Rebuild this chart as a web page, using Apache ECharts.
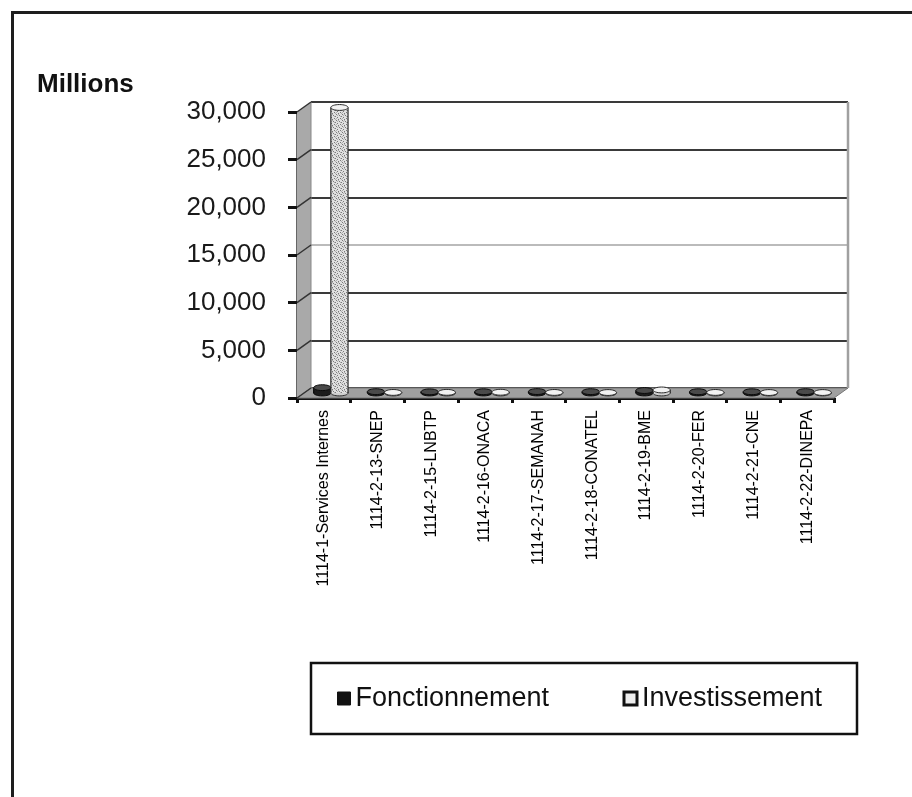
<!DOCTYPE html>
<html>
<head>
<meta charset="utf-8">
<title>Millions</title>
<script src="https://cdn.jsdelivr.net/npm/echarts@6/dist/echarts.min.js"></script>
<style>
  html, body { margin: 0; padding: 0; background: #fff; }
  #chart { width: 912px; height: 797px; }
</style>
</head>
<body>
<div id="chart"></div>
<script>
// Budget by unit, in millions
const categories = [
  '1114-1-Services Internes',
  '1114-2-13-SNEP',
  '1114-2-15-LNBTP',
  '1114-2-16-ONACA',
  '1114-2-17-SEMANAH',
  '1114-2-18-CONATEL',
  '1114-2-19-BME',
  '1114-2-20-FER',
  '1114-2-21-CNE',
  '1114-2-22-DINEPA'
];
const fonctionnement = [560, 140, 120, 130, 150, 140, 260, 130, 130, 140];
const investissement = [29950, 60, 70, 80, 60, 50, 320, 60, 50, 50];
const yTicks = [0, 5000, 10000, 15000, 20000, 25000, 30000];
const seriesNames = ['Fonctionnement', 'Investissement'];

// Oblique depth of the pseudo-3D box (pixels)
const DEPTH_X = 14;
const DEPTH_Y = -10;
const FONT = '"Liberation Sans", Arial, sans-serif';

// Speckled fill for the light cylinders
function speckle() {
  const c = document.createElement('canvas');
  c.width = 6; c.height = 6;
  const g = c.getContext('2d');
  g.fillStyle = '#e0e0e0';
  g.fillRect(0, 0, 6, 6);
  g.fillStyle = '#7a7a7a';
  [[0,0],[3,1],[1,3],[4,4],[5,2],[2,5]].forEach(p => g.fillRect(p[0], p[1], 1, 1));
  g.fillStyle = '#b0b0b0';
  [[2,0],[5,5],[0,4],[4,2],[1,1]].forEach(p => g.fillRect(p[0], p[1], 1, 1));
  return c;
}
const speckleImg = speckle();

const styles = [
  { body: '#1c1c1c', top: '#4a4a4a', stroke: '#0a0a0a' },
  { body: { image: speckleImg, repeat: 'repeat' }, top: '#f2f2f2', stroke: '#2a2a2a' }
];

function cylinder(si) {
  return function (params, api) {
    const cat = api.value(0);
    const v = api.value(1);
    const top = api.coord([cat, v]);
    const base = api.coord([cat, 0]);
    const band = api.size([1, 0])[0];
    const w = band * 0.32;
    const cx = top[0] + DEPTH_X / 2 + (si === 0 ? -0.5 : 0.5) * w;
    const ty = top[1] + DEPTH_Y / 2;
    const by = base[1] + DEPTH_Y / 2;
    const rx = w / 2, ry = w * 0.17;
    const st = styles[si];
    return {
      type: 'group',
      children: [
        { type: 'ellipse', shape: { cx: cx, cy: by, rx: rx, ry: ry },
          style: { fill: si === 0 ? st.body : '#d0d0d0', stroke: st.stroke, lineWidth: 1 } },
        { type: 'rect', shape: { x: cx - rx, y: ty, width: w, height: Math.max(0, by - ty) },
          style: { fill: st.body } },
        { type: 'line', shape: { x1: cx - rx, y1: ty, x2: cx - rx, y2: by },
          style: { stroke: st.stroke, lineWidth: 1.2 } },
        { type: 'line', shape: { x1: cx + rx, y1: ty, x2: cx + rx, y2: by },
          style: { stroke: st.stroke, lineWidth: 1.2 } },
        { type: 'ellipse', shape: { cx: cx, cy: ty, rx: rx, ry: ry },
          style: { fill: st.top, stroke: st.stroke, lineWidth: 1 } }
      ]
    };
  };
}

// Side wall, floor and oblique tick connectors of the box
function boxWalls(params, api) {
  const n = categories.length;
  const band = api.size([1, 0])[0];
  const x0 = api.coord([0, 0])[0] - band / 2;
  const x1 = api.coord([n - 1, 0])[0] + band / 2;
  const yb = api.coord([0, 0])[1];
  const yt = api.coord([0, yTicks[yTicks.length - 1]])[1];
  const children = [
    { type: 'polygon', shape: { points: [[x0, yt], [x0 + DEPTH_X, yt + DEPTH_Y], [x0 + DEPTH_X, yb + DEPTH_Y], [x0, yb]] },
      style: { fill: '#a9a9a9' } },
    { type: 'polygon', shape: { points: [[x0, yb], [x0 + DEPTH_X, yb + DEPTH_Y], [x1 + DEPTH_X, yb + DEPTH_Y], [x1, yb]] },
      style: { fill: '#a0a0a0', stroke: '#777', lineWidth: 1 } },
    { type: 'line', shape: { x1: x1 + DEPTH_X, y1: yt + DEPTH_Y, x2: x1 + DEPTH_X, y2: yb + DEPTH_Y },
      style: { stroke: '#a0a0a0', lineWidth: 2.5 } },
    { type: 'line', shape: { x1: x0 + DEPTH_X, y1: yt + DEPTH_Y, x2: x0 + DEPTH_X, y2: yb + DEPTH_Y },
      style: { stroke: '#888', lineWidth: 1 } }
  ];
  yTicks.forEach(function (t) {
    const y = api.coord([0, t])[1];
    children.push({ type: 'line', shape: { x1: x0, y1: y, x2: x0 + DEPTH_X, y2: y + DEPTH_Y },
      style: { stroke: '#333', lineWidth: 1.5 } });
  });
  return { type: 'group', children: children };
}

const chart = echarts.init(document.getElementById('chart'), null, { renderer: 'canvas' });

const option = {
  backgroundColor: '#fff',
  animation: false,
  textStyle: { fontFamily: FONT },
  title: {
    text: 'Millions',
    left: 32, top: 67,
    textStyle: { fontFamily: FONT, fontSize: 26, fontWeight: 'bold', color: '#111' }
  },
  graphic: [
    { type: 'rect', left: 10, top: 10, shape: { width: 1000, height: 1000 },
      style: { fill: 'none', stroke: '#1e1e1e', lineWidth: 3 }, silent: true }
  ],
  legend: {
    left: 311, top: 663,
    orient: 'horizontal',
    padding: [20, 15, 20, 26],
    itemGap: 15,
    itemWidth: 13, itemHeight: 13,
    icon: 'rect',
    borderColor: '#111', borderWidth: 2.5,
    textStyle: { fontFamily: FONT, fontSize: 27, color: '#111', lineHeight: 31 },
    data: [
      { name: seriesNames[0], itemStyle: { color: '#111', borderColor: '#111', borderWidth: 1 },
        textStyle: { width: 252 } },
      { name: seriesNames[1], itemStyle: { color: '#eee', borderColor: '#111', borderWidth: 3 },
        textStyle: { width: 200 } }
    ]
  },
  grid: [
    { left: 297, right: 78, top: 112, bottom: 399 },
    { left: 297 + DEPTH_X, right: 78 - DEPTH_X, top: 112 + DEPTH_Y, bottom: 399 - DEPTH_Y }
  ],
  xAxis: [
    {
      type: 'category', gridIndex: 0, data: categories,
      axisLine: { show: true, lineStyle: { color: '#111', width: 3 } },
      axisTick: { show: true, length: 5, lineStyle: { color: '#111', width: 3 } },
      axisLabel: { rotate: 90, margin: 12, fontSize: 16, color: '#000', fontFamily: FONT, interval: 0 },
      splitLine: { show: false }
    },
    {
      type: 'category', gridIndex: 1, data: categories,
      axisLine: { show: false }, axisTick: { show: false }, axisLabel: { show: false }
    }
  ],
  yAxis: [
    {
      type: 'value', gridIndex: 0, min: 0, max: 30000, interval: 5000,
      axisLine: { show: true, lineStyle: { color: '#333', width: 1.5 } },
      axisTick: { show: true, length: 9, lineStyle: { color: '#111', width: 3 } },
      axisLabel: {
        margin: 31, fontSize: 26, color: '#1a1a1a', fontFamily: FONT,
        formatter: function (v) { return v.toLocaleString('en-US'); }
      },
      splitLine: { show: false }
    },
    {
      type: 'value', gridIndex: 1, min: 0, max: 30000, interval: 5000,
      axisLine: { show: false }, axisTick: { show: false }, axisLabel: { show: false },
      splitLine: { show: true, lineStyle: { color: ['#3a3a3a', '#3a3a3a', '#3a3a3a', '#bbbbbb', '#3a3a3a', '#3a3a3a', '#3a3a3a'], width: 2 } }
    }
  ],
  series: [
    {
      name: 'box', type: 'custom', xAxisIndex: 0, yAxisIndex: 0, silent: true, z: 1,
      renderItem: boxWalls, data: [[0, 0]]
    },
    {
      name: seriesNames[0], type: 'custom', xAxisIndex: 0, yAxisIndex: 0, z: 3,
      itemStyle: { color: '#111' },
      renderItem: cylinder(0),
      encode: { x: 0, y: 1 },
      data: fonctionnement.map(function (v, i) { return [i, v]; })
    },
    {
      name: seriesNames[1], type: 'custom', xAxisIndex: 0, yAxisIndex: 0, z: 4,
      itemStyle: { color: '#e4e4e4' },
      renderItem: cylinder(1),
      encode: { x: 0, y: 1 },
      data: investissement.map(function (v, i) { return [i, v]; })
    }
  ]
};

chart.setOption(option);
</script>
</body>
</html>
